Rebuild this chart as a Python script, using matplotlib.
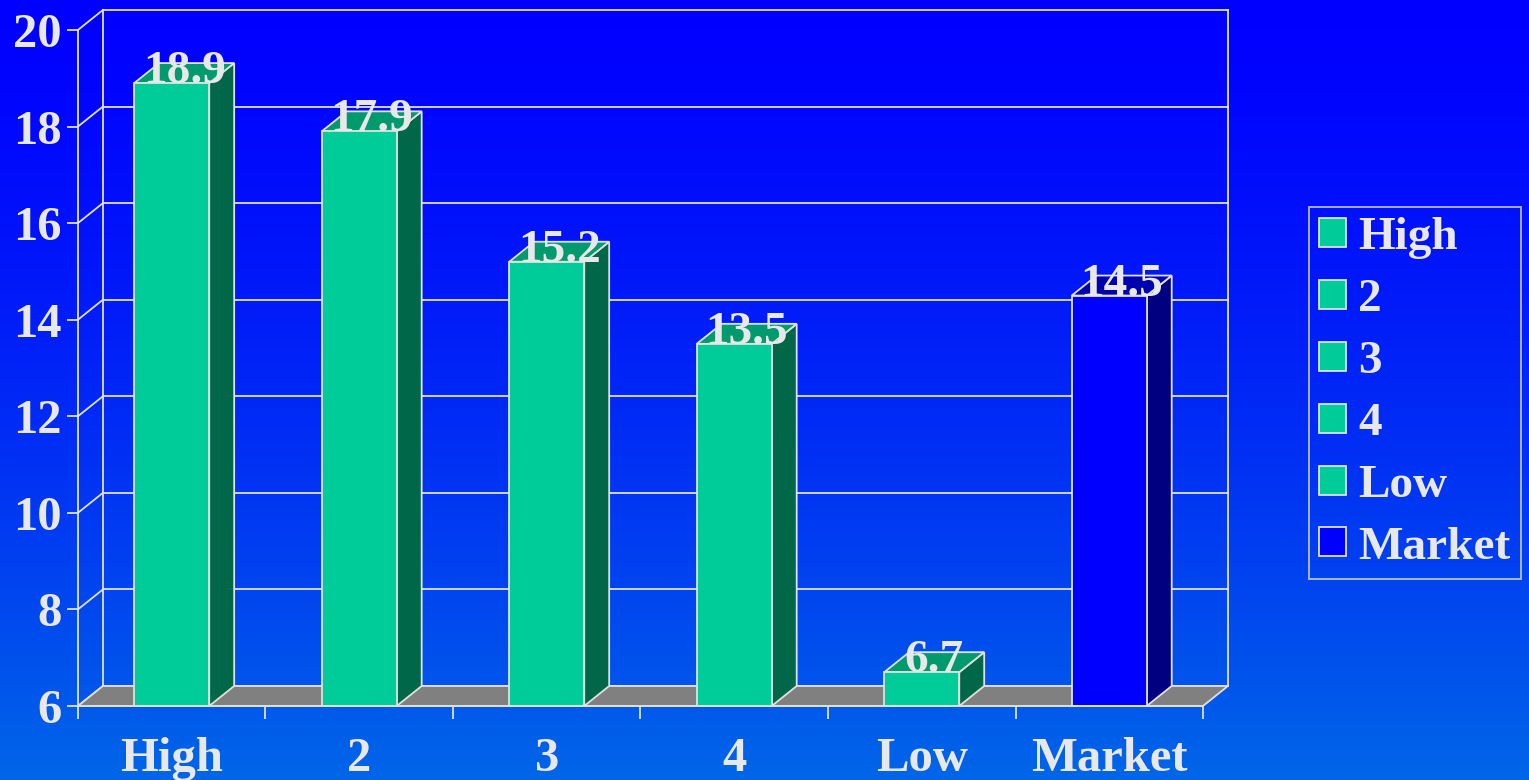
import numpy as np
import matplotlib.pyplot as plt
from matplotlib.patches import Polygon, Patch

# data
categories = ["High", "2", "3", "4", "Low", "Market"]
values = [18.9, 17.9, 15.2, 13.5, 6.7, 14.5]
yticks = [6, 8, 10, 12, 14, 16, 18, 20]

txt = "#e8e8e8"
edge = "#e0e0e0"
green = ("#00cc99", "#009a6e", "#006848")   # front, top, side
blue = ("#0000ff", "#0000b0", "#000080")

plt.rcParams["font.family"] = ["Liberation Serif", "DejaVu Serif"]
plt.rcParams["font.weight"] = "bold"

fig = plt.figure(figsize=(15.29, 7.80), dpi=100)

# gradient background
bg = fig.add_axes([0, 0, 1, 1], zorder=-5)
t = np.linspace(0, 1, 400) ** 1.4
top = np.array([0, 0, 255]) / 255
bot = np.array([0, 102, 232]) / 255
grad = top[None, :] + (bot - top)[None, :] * t[:, None]
bg.imshow(np.repeat(grad[:, None, :], 2, axis=1), aspect="auto",
          extent=[0, 1, 0, 1], origin="upper")
bg.axis("off")

ax = fig.add_axes([0.0510, 0.0949, 0.7358, 0.8667])
ax.patch.set_alpha(0)
ax.set_xlim(0, 6)
ax.set_ylim(6, 20)

dx, dy = 0.133, 0.414   # depth offset in data units
lw = 1.3

# back wall + side wall lines
for y in yticks:
    ax.plot([dx, 6 + dx], [y + dy, y + dy], color=edge, lw=lw, zorder=1, clip_on=False)
    ax.plot([0, dx], [y, y + dy], color=edge, lw=lw, zorder=1, clip_on=False)
ax.plot([dx, dx], [6 + dy, 20 + dy], color=edge, lw=lw, zorder=1, clip_on=False)
ax.plot([6 + dx, 6 + dx], [6 + dy, 20 + dy], color=edge, lw=lw, zorder=1, clip_on=False)

# floor
ax.add_patch(Polygon([(0, 6), (6, 6), (6 + dx, 6 + dy), (dx, 6 + dy)],
                     closed=True, facecolor="#808080", edgecolor=edge, lw=lw,
                     zorder=2, clip_on=False))

# bars
w = 0.4
for i, v in enumerate(values):
    front, topc, side = blue if categories[i] == "Market" else green
    x0 = i + 0.5 - w / 2
    x1 = i + 0.5 + w / 2
    ax.add_patch(Polygon([(x1, 6), (x1 + dx, 6 + dy), (x1 + dx, v + dy), (x1, v)],
                         closed=True, facecolor=side, edgecolor=edge, lw=lw,
                         zorder=3, clip_on=False))
    ax.add_patch(Polygon([(x0, v), (x1, v), (x1 + dx, v + dy), (x0 + dx, v + dy)],
                         closed=True, facecolor=topc, edgecolor=edge, lw=lw,
                         zorder=3, clip_on=False))
    ax.add_patch(Polygon([(x0, 6), (x1, 6), (x1, v), (x0, v)],
                         closed=True, facecolor=front, edgecolor=edge, lw=lw,
                         zorder=4, clip_on=False))
    ax.text(i + 0.5 + dx / 2, v, f"{v}", ha="center", va="baseline",
            fontsize=34, fontweight="bold", color=txt, zorder=6)

for s in ["top", "right"]:
    ax.spines[s].set_visible(False)
for s in ["left", "bottom"]:
    ax.spines[s].set_color(edge)
    ax.spines[s].set_linewidth(lw)
    ax.spines[s].set_zorder(5)

ax.set_yticks(yticks)
ax.set_yticklabels([str(y) for y in yticks])
ax.tick_params(axis="y", colors=edge, labelcolor=txt, labelsize=35,
               length=8, width=lw, pad=4)
ax.set_xticks(np.arange(6) + 0.5)
ax.set_xticklabels(categories)
ax.set_xticks(np.arange(7), minor=True)
ax.tick_params(axis="x", which="major", length=0, labelcolor=txt,
               labelsize=35, pad=22)
ax.tick_params(axis="x", which="minor", length=9, width=lw, color=edge)
for lab in ax.get_xticklabels() + ax.get_yticklabels():
    lab.set_fontweight("bold")

handles = [Patch(facecolor=(blue if c == "Market" else green)[0], edgecolor=edge,
                 lw=lw, label=c) for c in categories]
leg = fig.legend(handles=handles, loc="upper left",
                 bbox_to_anchor=(1309 / 1529, 1 - 207 / 780),
                 fontsize=34, frameon=True, fancybox=False,
                 handlelength=0.57, handleheight=0.57, handletextpad=0.25,
                 labelspacing=0.42, borderpad=0.22, borderaxespad=0)
leg.get_frame().set_facecolor("none")
leg.get_frame().set_edgecolor(edge)
leg.get_frame().set_linewidth(lw)
for tx in leg.get_texts():
    tx.set_color(txt)
    tx.set_fontweight("bold")

fig.savefig("out.png", dpi=100)
